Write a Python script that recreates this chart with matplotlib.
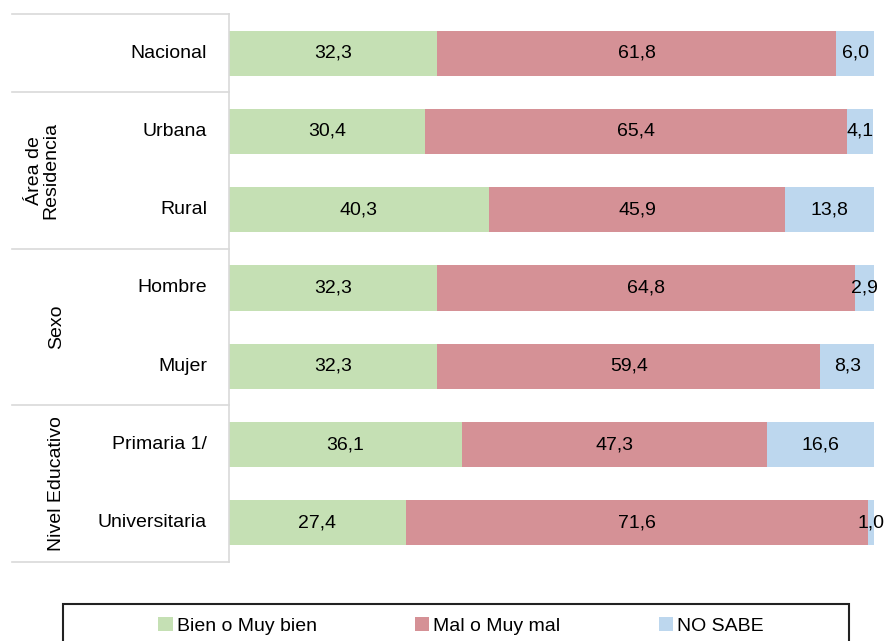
import matplotlib.pyplot as plt
from matplotlib.patches import Patch, Rectangle
from matplotlib.transforms import blended_transform_factory

plt.rcParams['font.family'] = ['Liberation Sans', 'DejaVu Sans']

# data
categories = ["Nacional", "Urbana", "Rural", "Hombre", "Mujer", "Primaria 1/", "Universitaria"]
bien = [32.3, 30.4, 40.3, 32.3, 32.3, 36.1, 27.4]
mal = [61.8, 65.4, 45.9, 64.8, 59.4, 47.3, 71.6]
no_sabe = [6.0, 4.1, 13.8, 2.9, 8.3, 16.6, 1.0]
series_names = ["Bien o Muy bien", "Mal o Muy mal", "NO SABE"]
colors = ["#C5E0B4", "#D59196", "#BDD7EE"]

# group labels: (text, first row, last row)
groups = [("Área de\nResidencia", 1, 2), ("Sexo", 3, 4), ("Nivel Educativo", 5, 6)]
boundaries = [-0.5, 0.5, 2.5, 4.5, 6.5]

FS = 14

fig = plt.figure(figsize=(8.87, 6.41), dpi=100)
ax = fig.add_axes([229 / 887, 1 - 562 / 641, 645 / 887, 548 / 641])

y = list(range(len(categories)))
left = [0] * len(categories)
for vals, name, col in zip([bien, mal, no_sabe], series_names, colors):
    bars = ax.barh(y, vals, left=left, height=0.575, color=col, label=name)
    for yi, l, v in zip(y, left, vals):
        ax.text(l + v / 2, yi, f"{v:.1f}".replace(".", ","), ha="center", va="center", fontsize=FS)
    left = [a + b for a, b in zip(left, vals)]

ax.set_xlim(0, 100)
ax.set_ylim(6.5, -0.5)
ax.set_xticks([])
ax.set_yticks([])
for s in ["top", "right", "bottom"]:
    ax.spines[s].set_visible(False)
ax.spines["left"].set_color("#D9D9D9")
ax.spines["left"].set_linewidth(1.2)

# category labels
for yi, c in zip(y, categories):
    ax.text(-0.034, yi, c, transform=blended_transform_factory(ax.transAxes, ax.transData),
            ha="right", va="center", fontsize=FS)

# separator lines
tr = blended_transform_factory(ax.transAxes, ax.transData)
for b in boundaries:
    ax.plot([-0.3364, 0], [b, b], transform=tr, color="#D9D9D9", lw=1.2, clip_on=False)

# group labels
for (text, a, b) in groups:
    xg = -0.289 if "\n" in text else -0.267
    ax.text(xg, (a + b) / 2, text, transform=tr, rotation=90, ha="center", va="center",
            fontsize=FS, multialignment="center", linespacing=1.0)

# legend box
fig.patches.append(Rectangle((63 / 887, -0.05), 786 / 887, (641 - 604) / 641 + 0.05,
                             transform=fig.transFigure, fill=False, edgecolor="#222222",
                             lw=1.5, clip_on=False))
handles = [Patch(facecolor=c, edgecolor="none") for c in colors]
fig.legend(handles, series_names, loc="center", bbox_to_anchor=(461 / 887, 1 - 626 / 641),
           ncol=3, frameon=False, fontsize=FS, handlelength=0.75, handleheight=0.75,
           handletextpad=0.2, columnspacing=5.05, borderpad=0)

fig.savefig("out.png", dpi=100)
